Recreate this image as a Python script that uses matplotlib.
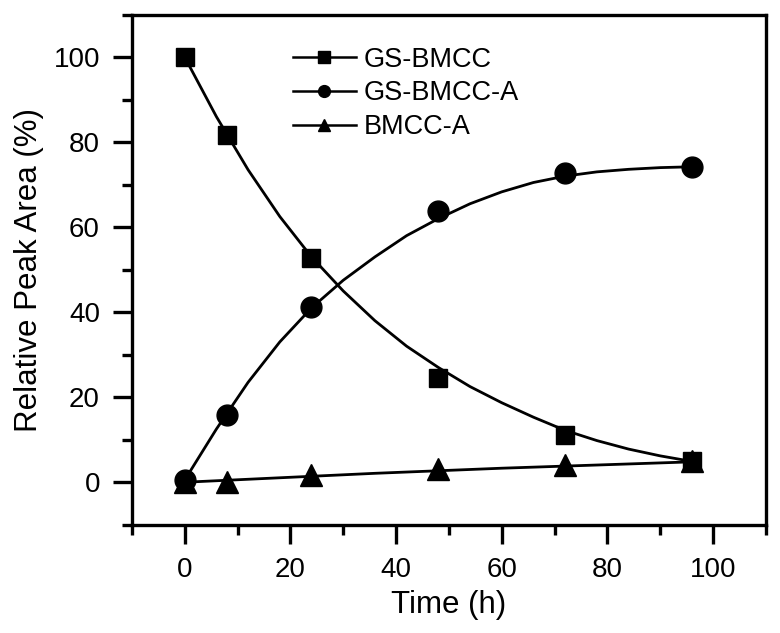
import numpy as np
import matplotlib
matplotlib.use("Agg")
import matplotlib.pyplot as plt
from matplotlib.lines import Line2D
from matplotlib.ticker import MultipleLocator

plt.rcParams['font.family'] = ['Liberation Sans', 'DejaVu Sans']

# measured points
time_h = [0, 8, 24, 48, 72, 96]
gs_bmcc = [100, 81.7, 52.8, 24.5, 11.1, 4.9]
gs_bmcc_a = [0.5, 15.9, 41.2, 63.7, 72.7, 74.1]
bmcc_a = [0.0, 0.0, 1.6, 3.0, 4.0, 5.0]

# fitted curves
fit_t = [0, 6, 12, 18, 24, 30, 36, 42, 48, 54, 60, 66, 72, 78, 84, 90, 96]
fit_gs_bmcc = [100, 86, 73.5, 62.5, 53, 45, 38, 32, 27, 22.5, 18.7, 15.3,
               12.2, 9.8, 7.8, 6.2, 4.9]
fit_gs_bmcc_a = [0.5, 12.5, 23.5, 33, 41, 47.5, 53, 58, 62, 65.5, 68.3, 70.5,
                 72, 73, 73.6, 74, 74.2]
fit_t_b = [0, 12, 24, 36, 48, 60, 72, 84, 96]
fit_bmcc_a = [0, 0.7, 1.4, 2.1, 2.7, 3.3, 3.8, 4.3, 4.8]

labels = ["GS-BMCC", "GS-BMCC-A", "BMCC-A"]

fig = plt.figure(figsize=(7.8, 6.33), dpi=100)
ax = fig.add_axes([0.169, 0.171, 0.813, 0.806])

ax.plot(fit_t, fit_gs_bmcc, color='black', lw=2)
ax.plot(fit_t, fit_gs_bmcc_a, color='black', lw=2)
ax.plot(fit_t_b, fit_bmcc_a, color='black', lw=2)

ax.plot(time_h, gs_bmcc, ls='none', marker='s', ms=13.5, color='black')
ax.plot(time_h, gs_bmcc_a, ls='none', marker='o', ms=15, color='black')
ax.plot(time_h, bmcc_a, ls='none', marker='^', ms=15.5, color='black')

ax.set_xlim(-10, 110)
ax.set_ylim(-10, 110)
ax.xaxis.set_major_locator(MultipleLocator(20))
ax.xaxis.set_minor_locator(MultipleLocator(10))
ax.yaxis.set_major_locator(MultipleLocator(20))
ax.yaxis.set_minor_locator(MultipleLocator(10))
ax.set_xticks([0, 20, 40, 60, 80, 100])
ax.set_yticks([0, 20, 40, 60, 80, 100])

for s in ax.spines.values():
    s.set_linewidth(2.4)
ax.tick_params(which='both', direction='out', width=2.4, labelsize=20,
               top=False, right=False)
ax.tick_params(which='major', length=14, pad=9)
ax.tick_params(which='minor', length=7.5)

ax.set_xlabel("Time (h)", fontsize=22.5, labelpad=5)
ax.set_ylabel("Relative Peak Area (%)", fontsize=22.5, labelpad=7)

handles = [
    Line2D([], [], color='black', lw=1.8, marker='s', ms=8),
    Line2D([], [], color='black', lw=1.8, marker='o', ms=8.5),
    Line2D([], [], color='black', lw=1.8, marker='^', ms=9),
]
ax.legend(handles, labels, loc='upper left', bbox_to_anchor=(0.376, 0.926),
          bbox_transform=fig.transFigure, frameon=False, fontsize=19.5,
          handlelength=2.3, handletextpad=0.3, labelspacing=0.28,
          borderpad=0, borderaxespad=0)

fig.savefig("out.png", dpi=100)
